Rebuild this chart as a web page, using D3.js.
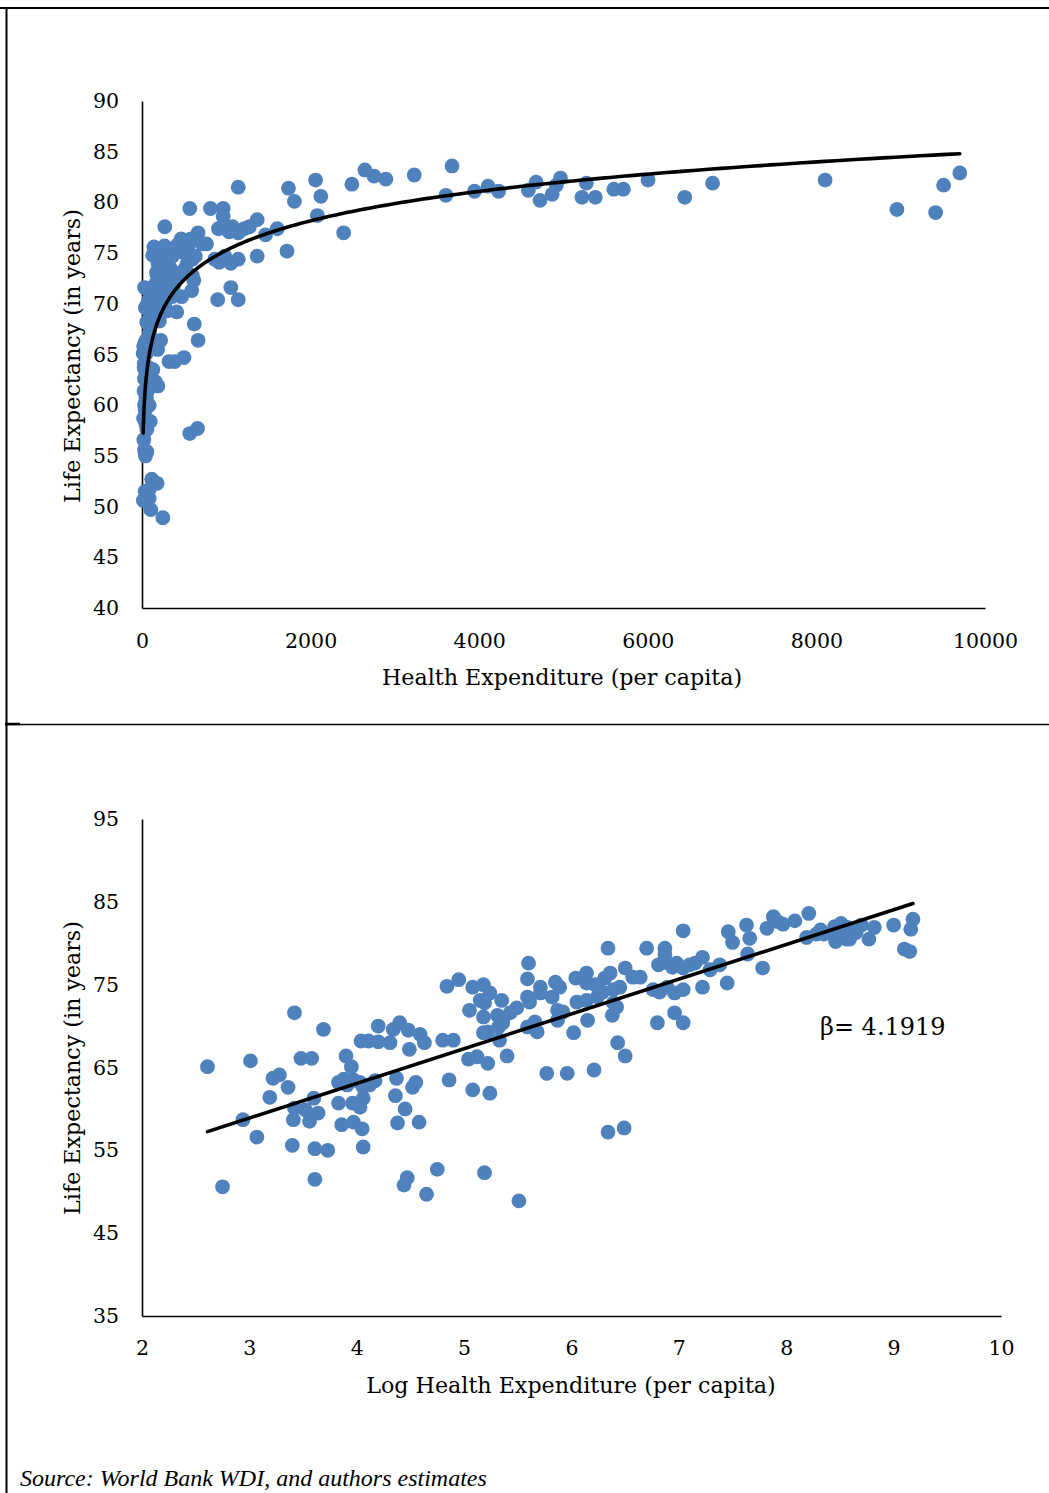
<!DOCTYPE html>
<html>
<head>
<meta charset="utf-8">
<script src="https://cdn.jsdelivr.net/npm/d3@7"></script>
<style>
  html, body { margin: 0; padding: 0; background: #fff; }
  svg { display: block; }
  .tick text { font-family: "DejaVu Serif", serif; font-size: 20.5px; fill: #000; }
  .title { font-family: "DejaVu Serif", serif; font-size: 22.2px; fill: #000; }
</style>
</head>
<body>
<svg id="chart" width="1049" height="1493"></svg>
<script>
// Log of health expenditure per capita (natural log) for each country
const logExpenditure = [2.61,2.75,2.94,3.01,3.07,3.19,3.22,3.28,3.36,3.40,3.42,3.41,3.42,3.48,3.52,3.56,3.58,3.60,3.64,3.61,3.61,3.69,3.73,3.83,3.83,3.86,3.88,3.90,3.91,3.95,3.96,3.97,3.97,4.03,4.03,4.04,4.05,4.06,4.06,4.06,4.11,4.12,4.17,4.20,4.20,4.31,4.34,4.36,4.37,4.38,4.40,4.44,4.45,4.47,4.48,4.49,4.52,4.55,4.58,4.59,4.63,4.65,4.75,4.80,4.90,4.84,4.95,4.86,5.04,5.05,5.08,5.08,5.12,5.15,5.18,5.18,5.18,5.19,5.19,5.22,5.22,5.24,5.24,5.31,5.32,5.33,5.35,5.36,5.40,5.43,5.49,5.51,5.59,5.60,5.59,5.61,5.59,5.66,5.68,5.71,5.71,5.77,5.82,5.85,5.87,5.87,5.89,5.92,5.96,6.02,6.04,6.05,6.14,6.14,6.14,6.15,6.21,6.22,6.24,6.29,6.31,6.34,6.34,6.36,6.38,6.39,6.39,6.42,6.43,6.45,6.49,6.50,6.50,6.57,6.64,6.70,6.76,6.80,6.81,6.82,6.87,6.87,6.87,6.89,6.94,6.96,6.96,6.98,7.04,7.04,7.04,7.04,7.10,7.15,7.22,7.22,7.29,7.38,7.45,7.46,7.50,7.63,7.64,7.66,7.78,7.82,7.88,7.92,7.97,8.08,8.19,8.21,8.28,8.32,8.35,8.43,8.45,8.46,8.49,8.50,8.51,8.56,8.57,8.59,8.63,8.65,8.70,8.77,8.82,9.00,9.10,9.15,9.16,9.18];
// Life expectancy (years) for the same countries
const lifeExpectancy = [65.1,50.6,58.7,65.8,56.6,61.4,63.7,64.1,62.6,55.6,71.6,58.7,60.1,66.1,59.9,58.5,66.1,61.3,59.5,55.2,51.5,69.6,55.0,63.2,60.7,58.1,63.6,66.4,62.9,65.1,60.7,63.5,58.4,63.2,60.2,68.2,57.6,62.6,61.3,55.4,68.2,62.9,63.4,70.0,68.1,68.0,69.6,61.6,63.7,58.3,70.4,50.8,60.0,51.7,69.5,67.2,62.6,63.2,58.4,69.0,68.0,49.7,52.7,68.3,68.3,74.8,75.6,63.5,66.0,71.9,74.7,62.3,66.3,73.1,75.0,71.1,69.2,52.3,72.8,69.3,65.5,74.0,61.9,71.3,69.9,68.3,73.1,70.4,66.4,71.6,72.2,48.9,75.7,77.6,73.5,72.9,69.9,70.5,69.3,74.7,74.0,64.3,73.5,75.3,71.9,70.7,74.7,71.7,64.3,69.2,75.8,72.9,76.4,75.2,73.1,70.7,64.7,75.0,73.5,74.1,75.8,79.4,57.2,76.4,71.3,74.4,72.8,72.3,68.0,74.7,57.7,77.0,66.4,75.9,75.9,79.4,74.4,70.4,77.4,74.1,79.4,78.6,77.7,74.7,77.1,74.0,71.6,77.6,81.5,77.0,74.4,70.4,77.4,77.6,78.3,74.7,76.8,77.4,75.2,81.4,80.1,82.2,78.7,80.6,77.0,81.8,83.2,82.6,82.3,82.7,80.7,83.6,81.1,81.6,81.1,81.2,82.0,80.2,80.8,81.7,82.4,80.5,81.9,80.5,81.3,81.3,82.2,80.5,81.9,82.2,79.3,79.0,81.7,82.9];

// Fitted model: life = intercept + beta * ln(expenditure)
const fitIntercept = 46.32;
const fitBeta = 4.1919;

// Tick labels
const topXTicks = [0, 2000, 4000, 6000, 8000, 10000];
const topYTicks = [40, 45, 50, 55, 60, 65, 70, 75, 80, 85, 90];
const botXTicks = [2, 3, 4, 5, 6, 7, 8, 9, 10];
const botYTicks = [35, 45, 55, 65, 75, 85, 95];

// Text
const topXTitle = "Health Expenditure (per capita)";
const botXTitle = "Log Health Expenditure (per capita)";
const yTitle = "Life Expectancy (in years)";
const betaLabel = "β= " + fitBeta.toFixed(4);
const sourceNote = "Source: World Bank WDI, and authors estimates";

const svg = d3.select("#chart");
svg.append("rect").attr("width", 1049).attr("height", 1493).attr("fill", "#fff");

// Frame lines
svg.append("line").attr("x1", 0).attr("x2", 1049).attr("y1", 8).attr("y2", 8).attr("stroke", "#000").attr("stroke-width", 2);
svg.append("line").attr("x1", 6.5).attr("x2", 6.5).attr("y1", 7).attr("y2", 1493).attr("stroke", "#000").attr("stroke-width", 2);
svg.append("line").attr("x1", 5).attr("x2", 1049).attr("y1", 724.5).attr("y2", 724.5).attr("stroke", "#000").attr("stroke-width", 1.3);
svg.append("line").attr("x1", 5).attr("x2", 20).attr("y1", 724).attr("y2", 724).attr("stroke", "#000").attr("stroke-width", 2.5);

const points = logExpenditure.map((lx, i) => ({ lx: lx, x: Math.exp(lx), y: lifeExpectancy[i] }));
const dotColor = "#4F81BD";
const dotR = 7.4;

function styleAxis(g) {
  g.select(".domain").attr("stroke", "#000").attr("stroke-width", 1.6);
  g.selectAll(".tick line").remove();
}

// ---------- Top chart ----------
const xTop = d3.scaleLinear().domain([0, 10000]).range([142, 985]);
const yTop = d3.scaleLinear().domain([40, 90]).range([608, 101]);

const gTop = svg.append("g");
gTop.append("g").attr("transform", "translate(0,608)")
  .call(d3.axisBottom(xTop).tickValues(topXTicks).tickSize(0).tickPadding(25).tickFormat(d3.format("d")))
  .call(styleAxis);
gTop.append("g").attr("transform", "translate(142,0)")
  .call(d3.axisLeft(yTop).tickValues(topYTicks).tickSize(0).tickPadding(23).tickFormat(d3.format("d")))
  .call(styleAxis);

gTop.append("g").selectAll("circle").data(points).join("circle")
  .attr("cx", d => xTop(d.x)).attr("cy", d => yTop(d.y)).attr("r", dotR).attr("fill", dotColor);

const lxExtent = d3.extent(logExpenditure);
const curveSamples = d3.range(0, 401).map(i => lxExtent[0] + (lxExtent[1] - lxExtent[0]) * i / 400);
gTop.append("path")
  .datum(curveSamples)
  .attr("fill", "none").attr("stroke", "#000").attr("stroke-width", 3.6).attr("stroke-linecap", "round").attr("stroke-linejoin", "round")
  .attr("d", d3.line().x(lx => xTop(Math.exp(lx))).y(lx => yTop(fitIntercept + fitBeta * lx)));

gTop.append("text").attr("class", "title").attr("x", 562).attr("y", 685).attr("text-anchor", "middle").text(topXTitle);
gTop.append("text").attr("class", "title").attr("text-anchor", "middle")
  .attr("transform", "translate(80,356) rotate(-90)").text(yTitle);

// ---------- Bottom chart ----------
const xBot = d3.scaleLinear().domain([2, 10]).range([142, 1001]);
const yBot = d3.scaleLinear().domain([35, 95]).range([1316, 819]);

const gBot = svg.append("g");
gBot.append("g").attr("transform", "translate(0,1316)")
  .call(d3.axisBottom(xBot).tickValues(botXTicks).tickSize(0).tickPadding(24).tickFormat(d3.format("d")))
  .call(styleAxis);
gBot.append("g").attr("transform", "translate(142,0)")
  .call(d3.axisLeft(yBot).tickValues(botYTicks).tickSize(0).tickPadding(23).tickFormat(d3.format("d")))
  .call(styleAxis);

gBot.append("g").selectAll("circle").data(points).join("circle")
  .attr("cx", d => xBot(d.lx)).attr("cy", d => yBot(d.y)).attr("r", dotR).attr("fill", dotColor);

gBot.append("line")
  .attr("x1", xBot(lxExtent[0])).attr("y1", yBot(fitIntercept + fitBeta * lxExtent[0]))
  .attr("x2", xBot(lxExtent[1])).attr("y2", yBot(fitIntercept + fitBeta * lxExtent[1]))
  .attr("stroke", "#000").attr("stroke-width", 3.6).attr("stroke-linecap", "round");

gBot.append("text").attr("class", "title").attr("x", 820).attr("y", 1035).style("font-size", "24px").text(betaLabel);

gBot.append("text").attr("class", "title").attr("x", 571).attr("y", 1393).attr("text-anchor", "middle").text(botXTitle);
gBot.append("text").attr("class", "title").attr("text-anchor", "middle")
  .attr("transform", "translate(80,1068) rotate(-90)").text(yTitle);

svg.append("text").attr("x", 20).attr("y", 1486)
  .style("font-family", "'Liberation Serif', 'Times New Roman', serif").style("font-style", "italic").style("font-size", "24px")
  .text(sourceNote);
</script>
</body>
</html>
